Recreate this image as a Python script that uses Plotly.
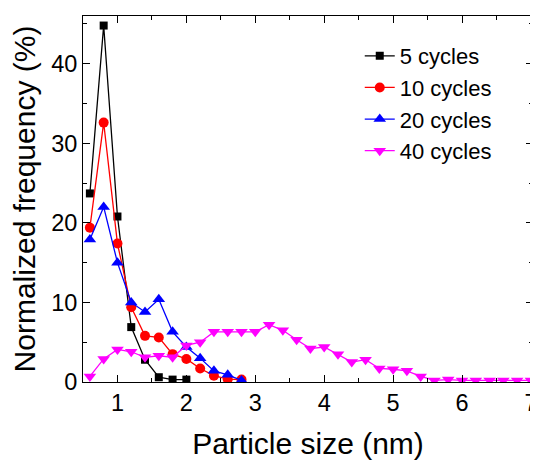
import plotly.graph_objects as go

x_all = [round(0.6 + 0.2 * i, 1) for i in range(33)]  # 0.6 .. 7.0

x5 = [0.6, 0.8, 1.0, 1.2, 1.4, 1.6, 1.8, 2.0]
y5 = [23.7, 44.8, 20.8, 6.9, 2.8, 0.6, 0.3, 0.3]

x10 = [0.6, 0.8, 1.0, 1.2, 1.4, 1.6, 1.8, 2.0, 2.2, 2.4, 2.6, 2.8]
y10 = [19.4, 32.6, 17.4, 9.4, 5.8, 5.6, 3.5, 2.9, 1.7, 0.8, 0.35, 0.3]

x20 = [0.6, 0.8, 1.0, 1.2, 1.4, 1.6, 1.8, 2.0, 2.2, 2.4, 2.6, 2.8]
y20 = [17.9, 22.0, 15.0, 10.0, 8.8, 10.4, 6.3, 4.4, 3.0, 1.4, 0.9, 0.2]

x40 = x_all
y40 = [0.7, 2.9, 4.1, 3.8, 3.1, 3.3, 3.1, 4.6, 5.0, 6.3, 6.3, 6.3, 6.3, 7.2,
       6.5, 5.3, 4.2, 4.4, 3.5, 2.5, 2.8, 1.7, 1.6, 1.4, 0.7, 0.2, 0.3, 0.2,
       0.2, 0.2, 0.2, 0.2, 0.2]

names = ["5 cycles", "10 cycles", "20 cycles", "40 cycles"]
colors = ["#000000", "#ff0000", "#0000ff", "#ff00ff"]
symbols = ["square", "circle", "triangle-up", "triangle-down"]
sizes = [8, 10, 11, 11]
series = [(x5, y5), (x10, y10), (x20, y20), (x40, y40)]

FONT = "Arial, Liberation Sans, sans-serif"

fig = go.Figure()
for (xs, ys), n, c, s, sz in zip(series, names, colors, symbols, sizes):
    fig.add_trace(go.Scatter(
        x=xs, y=ys, name=n, mode="lines+markers",
        line=dict(color=c, width=1.3),
        marker=dict(symbol=s, color=c, size=sz, line=dict(width=0)),
    ))

axis_common = dict(
    showline=True, linecolor="black", linewidth=1, mirror="ticks",
    ticks="inside", ticklen=7, tickwidth=1, tickcolor="black",
    showgrid=False, zeroline=False, automargin=False,
    tickfont=dict(family=FONT, size=23.5, color="black"),
)

fig.update_xaxes(
    range=[0.5, 7.03], tick0=1, dtick=1,
    title=dict(text="Particle size (nm)", font=dict(family=FONT, size=30, color="black"), standoff=18),
    minor=dict(ticks="inside", ticklen=4, tickcolor="black", dtick=0.5, tick0=0.5, showgrid=False),
    **axis_common,
)
fig.update_yaxes(
    range=[0, 46], tick0=0, dtick=10,
    title=dict(text="Normalized frequency (%)", font=dict(family=FONT, size=30, color="black"), standoff=12),
    minor=dict(ticks="inside", ticklen=4, tickcolor="black", dtick=5, tick0=0, showgrid=False),
    **axis_common,
)

fig.update_layout(
    width=530, height=452,
    margin=dict(l=75, r=5, t=8, b=78, autoexpand=False),
    paper_bgcolor="white", plot_bgcolor="white",
    font=dict(family=FONT, color="black"),
    legend=dict(
        x=0.615, y=0.948, xanchor="left", yanchor="top",
        font=dict(family=FONT, size=22, color="black"),
        bgcolor="rgba(0,0,0,0)", tracegroupgap=0,
    ),
)

fig.write_html("out.html")
